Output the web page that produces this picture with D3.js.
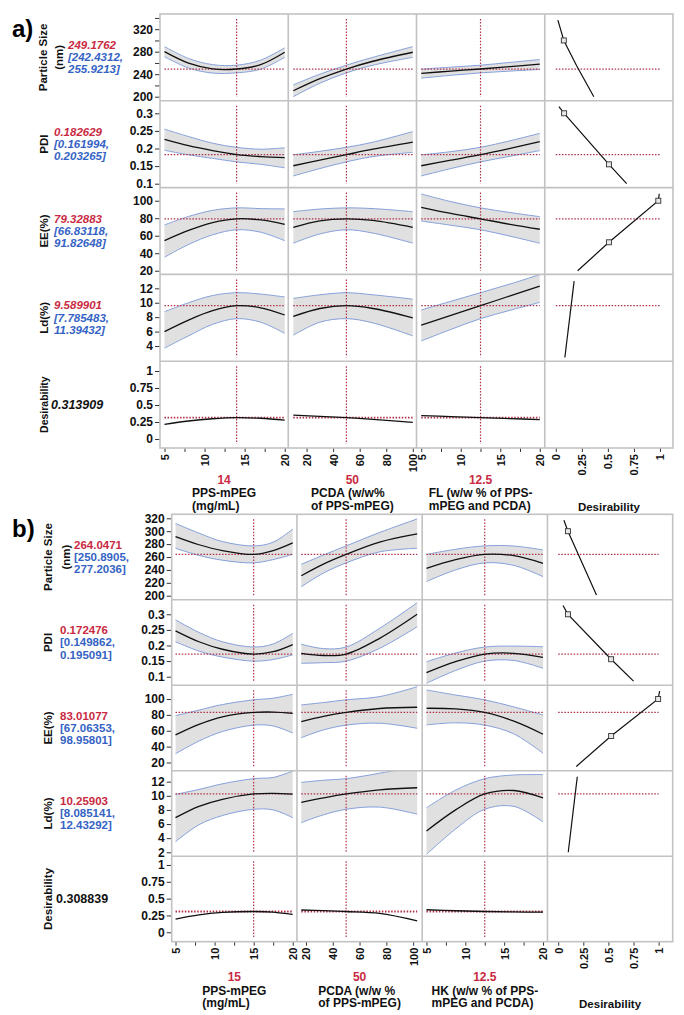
<!DOCTYPE html>
<html><head><meta charset="utf-8">
<script src="https://cdn.jsdelivr.net/npm/d3@7"></script>
<style>
body{margin:0;background:#fff}
svg{display:block}
text{font-family:"Liberation Sans",Arial,sans-serif;font-weight:bold}
</style>
</head><body>
<svg id="chart" width="684" height="1015"></svg>
<script>
// ---------------- DATA ----------------
const responseNames = [["Particle Size","(nm)"],["PDI"],["EE(%)"],["Ld(%)"],["Desirability"]];
const factorNamesA = [["PPS-mPEG","(mg/mL)"],["PCDA (w/w%","of PPS-mPEG)"],["FL (w/w % of PPS-","mPEG and PCDA)"]];
const factorNamesB = [["PPS-mPEG","(mg/mL)"],["PCDA (w/w %","of PPS-mPEG)"],["HK (w/w % of PPS-","mPEG and PCDA)"]];
const desirabilityTitle = "Desirability";

const currentA = [14, 50, 12.5];
const currentB = [15, 50, 12.5];

const predA = [249.1762, 0.182629, 79.32883, 9.589901, 0.313909];
const ciA = [[242.4312, 255.9213],[0.161994, 0.203265],[66.83118, 91.82648],[7.785483, 11.39432], null];
const predB = [264.0471, 0.172476, 83.01077, 10.25903, 0.308839];
const ciB = [[250.8905, 277.2036],[0.149862, 0.195091],[67.06353, 98.95801],[8.085141, 12.43292], null];

const xTickValues = [[5,10,15,20],[20,40,60,80,100],[5,10,15,20],[0,0.25,0.5,0.75,1]];
const xMinorTicks = [[7.5,12.5,17.5],[],[7.5,12.5,17.5],[]];
const yTicksA = [[200,240,280,320],[0.1,0.15,0.2,0.25,0.3],[20,40,60,80,100],[4,6,8,10,12],[0,0.25,0.5,0.75,1]];
const yMinorA = [[220,260,300,340],[],[],[],[]];
const yTicksB = [[200,220,240,260,280,300,320],[0.1,0.15,0.2,0.25,0.3],[20,40,60,80,100],[2,4,6,8,10,12],[0,0.25,0.5,0.75,1]];
const yMinorB = [[],[],[],[],[]];

// factor sample positions for the profile traces
const xSamplesA = [[5,8,11,14,17,20],[10,30,50,70,100],[5,8.75,12.5,16.25,20]];
const xSamplesB = [[5,8,11,15,17.5,20],[16.5,33,50,75,103],[5,8.75,12.5,16.25,20]];

// panel a profiles (one array per factor column)
const aSizeMean = [[280,259.6,249.4,249.2,257,279],[210.5,232,249.2,263,279],[241.5,245.5,249.2,253.5,258]];
const aSizeHi   = [[289,268,257,256,265,287],[221,240,256,270,289],[249,252.5,256,261,266]];
const aSizeLo   = [[271,251,242,242.4,249,270],[200,224,242.4,256,270],[233,238,242.4,245.5,248.5]];
const aPdiMean  = [[0.226,0.208,0.194,0.1826,0.177,0.174],[0.151,0.167,0.1826,0.198,0.218],[0.151,0.167,0.1826,0.2005,0.2195]];
const aPdiHi    = [[0.255,0.234,0.215,0.2033,0.198,0.202],[0.182,0.192,0.2033,0.218,0.248],[0.182,0.191,0.2033,0.222,0.243]];
const aPdiLo    = [[0.195,0.182,0.172,0.162,0.155,0.145],[0.122,0.143,0.162,0.177,0.189],[0.122,0.143,0.162,0.178,0.194]];
const aEeMean   = [[54.3,66,75,79.33,78,73],[69.6,77,79.33,77.5,69.6],[92.5,85.5,79.33,73,67.4]];
const aEeHi     = [[72.3,82,89,91.83,91,90.6],[87.5,90.5,91.83,91,87.5],[107.7,99,91.83,86.5,81.8]];
const aEeLo     = [[35.4,50,61,66.83,64,54.3],[51.5,62,66.83,63,51.5],[76.8,72,66.83,59.5,51.4]];
const aLdMean   = [[6.0,7.6,8.9,9.59,9.3,8.3],[8.1,9.2,9.59,9.2,7.9],[6.9,8.25,9.59,10.95,12.3]];
const aLdHi     = [[8.75,10,11,11.39,11.2,10.8],[10.6,11.1,11.39,11.1,10.5],[9.0,10.2,11.39,12.6,13.9]];
const aLdLo     = [[3.7,5.4,7.0,7.79,7.3,5.75],[5.5,7.3,7.79,7.2,5.4],[4.7,6.3,7.79,8.95,10.05]];
const aDesMean  = [[0.214,0.265,0.298,0.314,0.305,0.277],[0.35,0.333,0.314,0.29,0.245],[0.345,0.33,0.314,0.3,0.285]];

// panel b profiles
const bSizeMean = [[291.5,279,270,264.05,270,282],[231,249,264.05,283,295.7],[242.5,256,264.05,262,250.2]];
const bSizeHi   = [[312,297,284,277.2,283,303.4],[248.7,263,277.2,298,319],[264,272,277.2,277,271]];
const bSizeLo   = [[273.5,262.5,255,250.9,256,264],[214,235,250.9,268,273.5],[222,240,250.9,247,229.5]];
const bPdiMean  = [[0.247,0.212,0.188,0.1725,0.18,0.203],[0.175,0.168,0.1725,0.223,0.300],[0.113,0.148,0.1725,0.175,0.162]];
const bPdiHi    = [[0.282,0.242,0.212,0.1951,0.205,0.239],[0.204,0.19,0.1951,0.255,0.337],[0.148,0.176,0.1951,0.198,0.196]];
const bPdiLo    = [[0.212,0.182,0.163,0.1499,0.155,0.170],[0.143,0.145,0.1499,0.191,0.260],[0.079,0.12,0.1499,0.152,0.127]];
const bEeMean   = [[54.7,68,77.5,83.01,83.5,82],[71.5,78,83.01,88,89.6],[88.3,87.5,83.01,72,55.6]];
const bEeHi     = [[79,86,93,98.96,101,106],[92.5,95.5,98.96,103,115.5],[111.4,105,98.96,90,79.9]];
const bEeLo     = [[31,47,59,67.06,66,57],[51.3,61,67.06,69.5,63.1],[67.3,70,67.06,56,31.6]];
const bLdMean   = [[6.9,8.5,9.5,10.26,10.35,10.25],[9.07,9.7,10.26,10.85,11.14],[5.0,8.0,10.26,10.75,9.7]];
const bLdHi     = [[10.2,10.9,11.7,12.43,12.6,13.5],[11.9,12.2,12.43,13.2,14.2],[8.3,10.8,12.43,12.95,13.0]];
const bLdLo     = [[3.5,5.9,7.2,8.09,8.0,6.9],[6.2,7.3,8.09,8.4,7.4],[1.7,5.3,8.09,8.5,6.3]];
const bDesMean  = [[0.197,0.26,0.295,0.3088,0.3,0.267],[0.331,0.322,0.3088,0.28,0.17],[0.335,0.32,0.3088,0.302,0.298]];

// desirability functions (x = desirability, y = response) and their control points
const aDesFn = [[[0.02,336],[0.077,300],[0.2,255],[0.365,200]],
                [[0.03,0.319],[0.08,0.30],[0.51,0.155],[0.68,0.10]],
                [[0.21,20],[0.51,52.5],[0.984,100],[0.993,108]],
                [[0.087,2.4],[0.176,13.0]]];
const aDesPts = [[[0.077,300]],[[0.08,0.30],[0.51,0.155]],[[0.51,52.5],[0.984,100]],[]];
const bDesFn = [[[0.057,317],[0.097,300],[0.381,201]],
                [[0.048,0.328],[0.097,0.30],[0.527,0.156],[0.75,0.086]],
                [[0.18,15],[0.527,53.4],[0.995,100],[1.01,110]],
                [[0.10,2.0],[0.19,12.7]]];
const bDesPts = [[[0.097,300]],[[0.097,0.30],[0.527,0.156]],[[0.527,53.4],[0.995,100]],[]];

// ---------------- LAYOUT / STYLE ----------------
const RED = "#c92a42", BLUE = "#3563c4", GRID = "#c2c2c2", BAND = "#e0e0e0", BANDLINE = "#86a0da", REFC = "#b03048";
const svg = d3.select("#chart");
const defs = svg.append("defs");

const panels = [
  {id:"a", letter:"a)", letterX:12, letterY:37, italic:true,
   top:14, bottom:448, left:160, right:673,
   yDomains:[[192.7,347],[0.0889,0.3355],[15.8,115],[1.89,13.93],[-0.132,1.144]],
   xDomains:[[4.44,20.44],[6.2,102.8],[4.4,20.63],[-0.106,1.125]],
   xSamples:xSamplesA, current:currentA, pred:predA, ci:ciA,
   yTicks:yTicksA, yMinor:yMinorA, factorNames:factorNamesA,
   mean:[aSizeMean,aPdiMean,aEeMean,aLdMean,aDesMean],
   hi:[aSizeHi,aPdiHi,aEeHi,aLdHi,null], lo:[aSizeLo,aPdiLo,aEeLo,aLdLo,null],
   desFn:aDesFn, desPts:aDesPts,
   labelX1:44, labelX2:[43,59], labelSizes:[11.5,11.5,11.5,11.5,10.5],
   valueX:[68,54,54,54,51], valueBaselines:[484,497,510]},
  {id:"b", letter:"b)", letterX:12, letterY:537, italic:false,
   top:514.3, bottom:941.7, left:171.7, right:672.7,
   yDomains:[[193.7,326.2],[0.0726,0.3465],[9.6,117.3],[1.44,13.55],[-0.14,1.13]],
   xDomains:[[4.51,20.54],[13.27,106.76],[4.45,20.57],[-0.107,1.14]],
   xSamples:xSamplesB, current:currentB, pred:predB, ci:ciB,
   yTicks:yTicksB, yMinor:yMinorB, factorNames:factorNamesB,
   mean:[bSizeMean,bPdiMean,bEeMean,bLdMean,bDesMean],
   hi:[bSizeHi,bPdiHi,bEeHi,bLdHi,null], lo:[bSizeLo,bPdiLo,bEeLo,bLdLo,null],
   desFn:bDesFn, desPts:bDesPts,
   labelX1:48, labelX2:[48,66], labelSizes:[11.5,11.5,11.5,11.5,11.5],
   valueX:[74,60,60,60,56], valueBaselines:[981,995,1007]}
];

function drawPanel(P){
  const g = svg.append("g");
  const colX = d3.range(5).map(i => P.left + i*(P.right-P.left)/4);
  const rowY = d3.range(6).map(i => P.top + i*(P.bottom-P.top)/5);
  const xs = P.xDomains.map((d,c)=>d3.scaleLinear().domain(d).range([colX[c],colX[c+1]]));
  const ys = P.yDomains.map((d,r)=>d3.scaleLinear().domain(d).range([rowY[r+1],rowY[r]]));

  g.append("text").attr("x",P.letterX).attr("y",P.letterY).attr("font-size",24).text(P.letter);

  for(let r=0;r<5;r++){
    const y = ys[r];
    for(let c=0;c<4;c++){
      const cid = `clip-${P.id}-${r}-${c}`;
      defs.append("clipPath").attr("id",cid).append("rect")
        .attr("x",colX[c]).attr("y",rowY[r]).attr("width",colX[c+1]-colX[c]).attr("height",rowY[r+1]-rowY[r]);
      const cg = g.append("g").attr("clip-path",`url(#${cid})`);
      const x = xs[c];
      if(c<3){
        const xsmp = P.xSamples[c];
        const curve = d3.curveCatmullRom.alpha(0.5);
        if(P.hi[r]){
          const band = xsmp.map((v,i)=>({x:v, lo:P.lo[r][c][i], hi:P.hi[r][c][i]}));
          cg.append("path").datum(band)
            .attr("d", d3.area().x(d=>x(d.x)).y0(d=>y(d.lo)).y1(d=>y(d.hi)).curve(curve))
            .attr("fill",BAND);
          ["hi","lo"].forEach(k=>{
            cg.append("path").datum(band)
              .attr("d", d3.line().x(d=>x(d.x)).y(d=>y(d[k])).curve(curve))
              .attr("fill","none").attr("stroke",BANDLINE).attr("stroke-width",1);
          });
        }
        cg.append("line")
          .attr("x1",x(xsmp[0])).attr("x2",x(xsmp[xsmp.length-1]))
          .attr("y1",y(P.pred[r])).attr("y2",y(P.pred[r]))
          .attr("stroke",REFC).attr("stroke-width",r===4?1.8:1.2).attr("stroke-dasharray","1.5,1.6");
        cg.append("line")
          .attr("x1",x(P.current[c])).attr("x2",x(P.current[c]))
          .attr("y1",rowY[r]+5).attr("y2",rowY[r+1]-4)
          .attr("stroke",REFC).attr("stroke-width",1.2).attr("stroke-dasharray","1.5,1.6");
        const pts = xsmp.map((v,i)=>[v,P.mean[r][c][i]]);
        cg.append("path").datum(pts)
          .attr("d", d3.line().x(d=>x(d[0])).y(d=>y(d[1])).curve(curve))
          .attr("fill","none").attr("stroke","#111").attr("stroke-width",1.3);
      } else if(r<4){
        cg.append("line")
          .attr("x1",x(0)).attr("x2",x(1)).attr("y1",y(P.pred[r])).attr("y2",y(P.pred[r]))
          .attr("stroke",REFC).attr("stroke-width",1.2).attr("stroke-dasharray","1.5,1.6");
        cg.append("path").datum(P.desFn[r])
          .attr("d", d3.line().x(d=>x(d[0])).y(d=>y(d[1])))
          .attr("fill","none").attr("stroke","#111").attr("stroke-width",1.2);
        cg.selectAll("rect.pt").data(P.desPts[r]).enter().append("rect")
          .attr("x",d=>x(d[0])-2.5).attr("y",d=>y(d[1])-2.5).attr("width",5).attr("height",5)
          .attr("fill","#e8e8e8").attr("stroke","#333").attr("stroke-width",0.9);
      }
    }

    // y axis
    const ax = g.append("g").attr("transform",`translate(${P.left},0)`)
      .call(d3.axisLeft(y).tickValues(P.yTicks[r]).tickSize(5).tickPadding(2).tickFormat(d=>String(d)));
    ax.select(".domain").remove();
    ax.selectAll("line").attr("stroke","#333");
    ax.selectAll("text").attr("font-size",12).attr("font-weight","bold").attr("fill","#111")
      .style("font-family",'"Liberation Sans",Arial,sans-serif');
    if(P.yMinor[r].length){
      const mx = g.append("g").attr("transform",`translate(${P.left},0)`)
        .call(d3.axisLeft(y).tickValues(P.yMinor[r]).tickSize(5).tickFormat(""));
      mx.select(".domain").remove();
      mx.selectAll("line").attr("stroke","#333");
    }

    // row label
    const rc = (rowY[r]+rowY[r+1])/2;
    const lines = responseNames[r];
    lines.forEach((t,i)=>{
      const lx = lines.length===1 ? P.labelX1 : P.labelX2[i];
      g.append("text").attr("transform",`translate(${lx},${rc}) rotate(-90)`)
        .attr("text-anchor","middle").attr("dy","0.35em").attr("font-size",P.labelSizes[r]).attr("fill","#111").text(t);
    });

    // predicted value and CI
    const vx = P.valueX[r];
    const vt = (txt,dy,col)=>g.append("text").attr("x",vx).attr("y",rc+dy).attr("font-size",11.5)
      .attr("fill",col).style("font-style",P.italic?"italic":"normal").text(txt);
    if(P.ci[r]){
      vt(String(P.pred[r]),-8.5,RED);
      vt("["+String(P.ci[r][0])+",",3.8,BLUE);
      vt(String(P.ci[r][1])+"]",16,BLUE);
    } else {
      g.append("text").attr("x",vx).attr("y",rc+4.5).attr("font-size",12.5).attr("fill","#111")
        .style("font-style",P.italic?"italic":"normal").text(String(P.pred[r]));
    }
  }

  // x axes
  for(let c=0;c<4;c++){
    const ax = g.append("g").attr("transform",`translate(0,${P.bottom})`)
      .call(d3.axisBottom(xs[c]).tickValues(xTickValues[c]).tickSize(4).tickFormat(d=>String(d)));
    ax.select(".domain").remove();
    ax.selectAll("line").attr("stroke","#333");
    ax.selectAll("text").attr("transform","rotate(-90)").attr("text-anchor","end")
      .attr("x",-6).attr("y",0).attr("dy","0.36em").attr("font-size",11).attr("font-weight","bold")
      .attr("fill","#111").style("font-family",'"Liberation Sans",Arial,sans-serif');
    if(xMinorTicks[c].length){
      const mx = g.append("g").attr("transform",`translate(0,${P.bottom})`)
        .call(d3.axisBottom(xs[c]).tickValues(xMinorTicks[c]).tickSize(4).tickFormat(""));
      mx.select(".domain").remove();
      mx.selectAll("line").attr("stroke","#333");
    }
  }

  // factor titles
  for(let c=0;c<3;c++){
    const cx = (colX[c]+colX[c+1])/2;
    g.append("text").attr("x",cx).attr("y",P.valueBaselines[0]).attr("text-anchor","middle")
      .attr("font-size",12).attr("fill",RED).text(String(P.current[c]));
    const ts = P.factorNames[c].map((t,i)=>g.append("text").attr("y",P.valueBaselines[i+1])
      .attr("font-size",12).attr("fill","#111").text(t));
    const w = d3.max(ts,t=>t.node().getComputedTextLength());
    ts.forEach(t=>t.attr("x",cx-w/2));
  }
  g.append("text").attr("x",(colX[3]+colX[4])/2).attr("y",P.valueBaselines[2]+1).attr("text-anchor","middle")
    .attr("font-size",11.5).attr("fill","#111").text(desirabilityTitle);

  // grid
  g.append("rect").attr("x",P.left).attr("y",P.top).attr("width",P.right-P.left).attr("height",P.bottom-P.top)
    .attr("fill","none").attr("stroke",GRID).attr("stroke-width",1.6);
  colX.slice(1,4).forEach(xv=>g.append("line").attr("x1",xv).attr("x2",xv).attr("y1",P.top).attr("y2",P.bottom)
    .attr("stroke",GRID).attr("stroke-width",1.6));
  rowY.slice(1,5).forEach(yv=>g.append("line").attr("x1",P.left).attr("x2",P.right).attr("y1",yv).attr("y2",yv)
    .attr("stroke",GRID).attr("stroke-width",1.6));
}

panels.forEach(drawPanel);
</script>
</body></html>
